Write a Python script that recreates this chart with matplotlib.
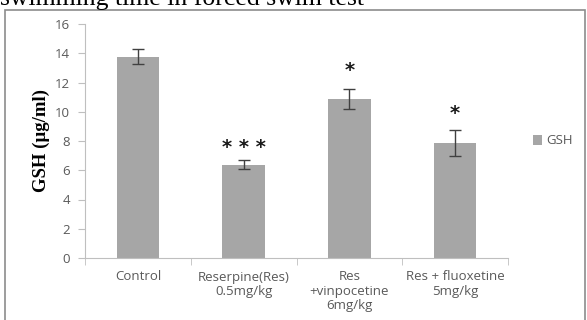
import numpy as np
import matplotlib.pyplot as plt
from matplotlib.patches import Rectangle

# Data
groups = ['Control', 'Reserpine(Res)\n0.5mg/kg', 'Res\n+vinpocetine\n6mg/kg', 'Res + fluoxetine\n5mg/kg']
gsh = [13.76, 6.38, 10.87, 7.85]
gsh_err = [0.5, 0.32, 0.7, 0.88]
marks = ['', '* * *', '*', '*']
mark_y = [0, 7.55, 12.85, 9.85]

tick_grey = '#595959'
axis_grey = '#BFBFBF'

fig = plt.figure(figsize=(5.87, 3.2), dpi=100)
fig.patch.set_facecolor('white')

# cropped caption text above the chart box
fig.text(0.0, 1 - 5 / 320, 'swimming time in forced swim test', family='Liberation Serif',
         fontsize=18.5, ha='left', va='baseline', color='black')

# outer chart border
fig.patches.append(Rectangle((5 / 587, -0.05), 580 / 587, 1.05 - 10 / 320,
                             transform=fig.transFigure, fill=False,
                             edgecolor='#8C8C8C', lw=1.2, clip_on=False))

ax = fig.add_axes([85 / 587, 62 / 320, 423 / 587, 234 / 320])
x = np.arange(len(groups))
ax.bar(x, gsh, width=0.4, color='#A6A6A6', label='GSH', zorder=2)
ax.errorbar(x, gsh, yerr=gsh_err, fmt='none', ecolor='#404040', elinewidth=1,
            capsize=4, capthick=1, zorder=3)

for xi, m, my in zip(x, marks, mark_y):
    if m:
        ax.text(xi, my, m, ha='center', va='center',
                fontsize=14, fontweight='bold', family='DejaVu Sans', color='#1a1a1a')

ax.set_xlim(-0.5, len(groups) - 0.5)
ax.set_ylim(0, 16)
ax.set_yticks(np.arange(0, 17, 2))
ax.set_xticks(x)
ax.set_xticklabels(groups, family='Open Sans', fontsize=9.5, color=tick_grey, linespacing=1.15)
ax.set_xticks(np.arange(-0.5, len(groups), 1), minor=True)
ax.tick_params(axis='x', which='major', length=0, pad=9)
ax.tick_params(axis='x', which='minor', length=5, color=axis_grey, direction='out')
ax.tick_params(axis='y', length=5, color=axis_grey, labelcolor=tick_grey, labelsize=9.5, pad=6)
for lbl in ax.get_yticklabels():
    lbl.set_family('Open Sans')

for s in ['top', 'right']:
    ax.spines[s].set_visible(False)
for s in ['left', 'bottom']:
    ax.spines[s].set_color(axis_grey)

ax.set_ylabel('GSH (µg/ml)', family='Liberation Serif', fontweight='bold', fontsize=13.5,
              labelpad=3)

leg = ax.legend(loc='center left', bbox_to_anchor=(1.03, 0.5), frameon=False,
                prop={'family': 'Open Sans', 'size': 9.5}, handlelength=0.7,
                handleheight=0.7, handletextpad=0.3)
for t in leg.get_texts():
    t.set_color(tick_grey)

fig.savefig('out.png', dpi=100)
